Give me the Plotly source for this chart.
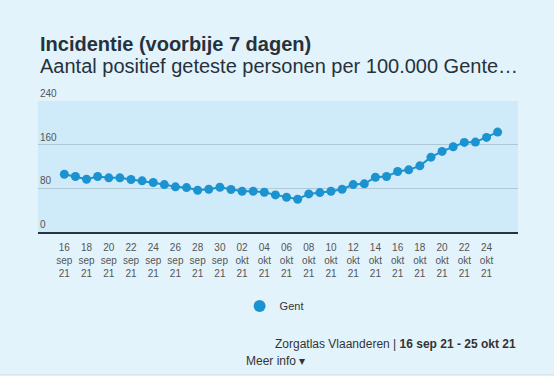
import plotly.graph_objects as go
import pandas as pd

dates = pd.date_range("2021-09-16", "2021-10-25", freq="D")
gent = [105.9, 101.6, 96.7, 101.6, 99.2, 99.2, 96.1, 93.7, 90.6, 86.9,
        82.7, 81.4, 76.5, 78.4, 82.0, 77.8, 74.7, 74.7, 72.9, 68.0,
        63.7, 60.0, 69.8, 72.2, 74.7, 78.4, 86.9, 88.2, 100.4, 101.6,
        110.8, 113.9, 121.2, 137.1, 147.6, 156.1, 164.1, 164.7, 173.3, 183.1]

tick_dates = pd.date_range("2021-09-16", "2021-10-24", freq="2D")
month_nl = {9: "sep", 10: "okt"}
tick_text = [f"{d.strftime('%d')}<br>{month_nl[d.month]}<br>21" for d in tick_dates]
y_ticks = [0, 80, 160, 240]

title = "Incidentie (voorbije 7 dagen)"
subtitle = "Aantal positief geteste personen per 100.000 Gente…"
source = "Zorgatlas Vlaanderen | <b>16 sep 21 - 25 okt 21</b>"

BLUE = "#1b93d1"
FONT = "Liberation Sans, Arial, sans-serif"

fig = go.Figure()
fig.add_trace(go.Scatter(
    x=dates, y=gent, mode="lines+markers", name="Gent", showlegend=False,
    line=dict(color=BLUE, width=2),
    marker=dict(color=BLUE, size=9),
))
# legend entry: marker only
fig.add_trace(go.Scatter(
    x=[None], y=[None], mode="markers", name="Gent", showlegend=True,
    marker=dict(color=BLUE, size=12),
))

annotations = [
    dict(text=f"<b>{title}</b>", xref="paper", yref="paper", x=0, y=1.435,
         xanchor="left", yanchor="middle", showarrow=False,
         font=dict(size=20, color="#26323b", family=FONT)),
    dict(text=subtitle, xref="paper", yref="paper", x=0, y=1.27,
         xanchor="left", yanchor="middle", showarrow=False,
         font=dict(size=20, color="#26323b", family=FONT)),
    dict(text=source, xref="paper", yref="paper", x=1.0, y=-0.855,
         xanchor="right", yanchor="middle", showarrow=False,
         font=dict(size=12, color="#333", family=FONT)),
    dict(text="Meer info ▾", xref="paper", yref="paper", x=0.495, y=-0.985,
         xanchor="center", yanchor="middle", showarrow=False,
         font=dict(size=12, color="#333", family=FONT)),
]
for v in y_ticks:
    annotations.append(dict(text=str(v), xref="paper", yref="y", x=0, y=v,
                            xanchor="left", yanchor="bottom", showarrow=False,
                            font=dict(size=10, color="#555", family=FONT)))

fig.update_layout(
    width=554, height=380,
    margin=dict(l=38, r=36, t=101, b=148),
    paper_bgcolor="#e3f3fb",
    plot_bgcolor="#cfeaf8",
    font=dict(family=FONT, color="#555", size=10),
    showlegend=True,
    legend=dict(orientation="h", x=0.42, xanchor="left", y=-0.565, yanchor="middle",
                font=dict(size=11, color="#333"), itemwidth=30, bgcolor="rgba(0,0,0,0)"),
    xaxis=dict(
        range=["2021-09-13 15:07", "2021-10-26 20:00"],
        tickvals=list(tick_dates), ticktext=tick_text,
        showgrid=False, showline=True, linecolor="#27343c", linewidth=1.5,
        ticks="", tickfont=dict(size=10, color="#555"), zeroline=False,
        ticklabelstandoff=5,
    ),
    yaxis=dict(
        range=[0, 240], tickvals=y_ticks, showticklabels=False,
        showgrid=True, gridcolor="#b0c8d4", gridwidth=1, zeroline=False, ticks="",
    ),
    annotations=annotations,
    shapes=[
        dict(type="rect", xref="paper", yref="paper", x0=-0.2, x1=1.2,
             y0=-1.0916, y1=-1.2, fillcolor="white", line=dict(width=0), layer="below"),
        dict(type="line", xref="paper", yref="paper", x0=-0.2, x1=1.2,
             y0=-1.0916, y1=-1.0916, line=dict(color="#d0d8dc", width=1)),
    ],
)

fig.write_html("out.html", config={"displayModeBar": False},
               post_script="document.body.style.margin='0';")
